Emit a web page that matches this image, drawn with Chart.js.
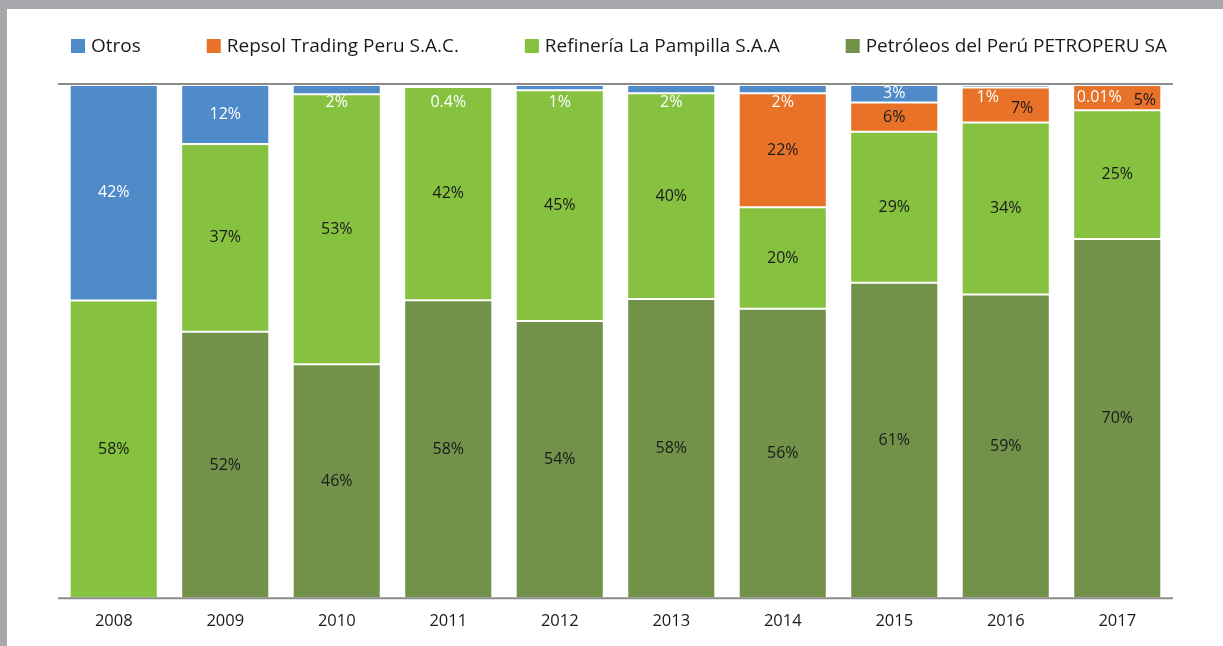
<!DOCTYPE html>
<html>
<head>
<meta charset="utf-8">
<script src="https://cdn.jsdelivr.net/npm/chart.js@4"></script>
<style>
  html, body {
    margin: 0;
    padding: 0;
    background: #a7a8ab;
    width: 1223px;
    height: 646px;
    overflow: hidden;
  }
  .frame {
    position: absolute;
    left: 7px;
    top: 9px;
    width: 1216px;
    height: 637px;
    background: #ffffff;
  }
</style>
</head>
<body>
<div class="frame"><canvas id="shareChart" width="1216" height="637"></canvas></div>
<script>
// Participación por año (%)
const years = ["2008", "2009", "2010", "2011", "2012", "2013", "2014", "2015", "2016", "2017"]
const petroperu = [0, 51.9, 45.6, 58.1, 54.0, 58.3, 56.4, 61.4, 59.3, 70.0]
const pampilla = [58, 36.6, 52.6, 41.6, 45, 40.1, 19.8, 29.4, 33.6, 25.1]
const repsol = [0, 0, 0, 0, 0, 0, 22.2, 5.7, 6.8, 4.9]
const otros = [42, 11.5, 1.8, 0.4, 1.0, 1.6, 1.6, 3.4, 0.5, 0.01]

const seriesNames = ["Petróleos del Perú PETROPERU SA", "Refinería La Pampilla S.A.A", "Repsol Trading Peru S.A.C.", "Otros"]
const seriesColors = ["#72924a", "#86c240", "#e87228", "#4f8bc9"]
const labelColors = ["#1a1a1a", "#1a1a1a", "#1a1a1a", "#ffffff"]

const raw = [petroperu, pampilla, repsol, otros]

// 100% apilado: cada año se normaliza a su total
const totals = years.map((_, i) => raw.reduce((s, arr) => s + arr[i], 0))
const shares = raw.map((arr) => arr.map((v, i) => (v / totals[i]) * 100))

const FONT = "'Open Sans', 'Noto Sans', sans-serif"

function formatPct(v) {
  if (v < 0.5) return v + "%"
  return Math.round(v) + "%"
}

Chart.defaults.font.family = FONT

// etiquetas de datos dentro de los segmentos
const segmentLabels = {
  id: "segmentLabels",
  afterDatasetsDraw(chart) {
    const ctx = chart.ctx
    ctx.save()
    ctx.font = "16px " + FONT
    ctx.textAlign = "center"
    ctx.textBaseline = "middle"
    years.forEach((_, i) => {
      const items = []
      raw.forEach((arr, d) => {
        if (arr[i] <= 0) return
        const bar = chart.getDatasetMeta(d).data[i]
        const top = Math.min(bar.y, bar.base)
        const h = Math.abs(bar.base - bar.y)
        let y = top + h / 2
        if (d === 3 && h < 12) y = top + 17
        items.push({ d, x: bar.x, y, text: formatPct(arr[i]) })
      })
      // si la etiqueta de Otros choca con la de Repsol, se separan
      const o = items.find((it) => it.d === 3)
      const r = items.find((it) => it.d === 2)
      if (o && r && Math.abs(o.y - r.y) < 14) {
        o.x -= 18
        o.y -= 5
        const oRight = o.x + ctx.measureText(o.text).width / 2
        r.x = oRight + 12 + ctx.measureText(r.text).width / 2
        r.y += 3
      }
      items.forEach((it) => {
        ctx.fillStyle = labelColors[it.d]
        ctx.fillText(it.text, it.x, it.y)
      })
    })
    ctx.restore()
  },
}

// líneas superior e inferior del área
const frameLines = {
  id: "frameLines",
  afterDatasetsDraw(chart) {
    const { ctx, chartArea } = chart
    ctx.save()
    ctx.strokeStyle = "#8c8c8c"
    ctx.lineWidth = 2
    ctx.beginPath()
    ctx.moveTo(chartArea.left, chartArea.top - 1)
    ctx.lineTo(chartArea.right, chartArea.top - 1)
    ctx.moveTo(chartArea.left, chartArea.bottom)
    ctx.lineTo(chartArea.right, chartArea.bottom)
    ctx.stroke()
    ctx.restore()
  },
}

// leyenda en una fila, de Otros a PETROPERU
const topLegend = {
  id: "topLegend",
  afterDraw(chart) {
    const { ctx, chartArea } = chart
    const box = 14
    const gapText = 6
    const y = 37
    ctx.save()
    ctx.font = "19px " + FONT
    ctx.textBaseline = "middle"
    const order = [3, 2, 1, 0]
    const widths = order.map((d) => box + gapText + ctx.measureText(seriesNames[d]).width)
    const start = chartArea.left + 13
    const end = chartArea.right - 6
    const gap = (end - start - widths.reduce((a, b) => a + b, 0)) / (order.length - 1)
    let x = start
    order.forEach((d, k) => {
      ctx.fillStyle = seriesColors[d]
      ctx.fillRect(x, y - box / 2, box, box)
      ctx.fillStyle = "#1a1a1a"
      ctx.fillText(seriesNames[d], x + box + gapText, y + 1)
      x += widths[k] + gap
    })
    ctx.restore()
  },
}

new Chart(document.getElementById("shareChart"), {
  type: "bar",
  data: {
    labels: years,
    datasets: shares.map((data, d) => ({
      label: seriesNames[d],
      data,
      backgroundColor: seriesColors[d],
      borderColor: "rgba(255,255,255,0.3)",
      borderWidth: 1,
      borderSkipped: false,
      categoryPercentage: 1,
      barPercentage: 0.79,
    })),
  },
  options: {
    responsive: false,
    animation: false,
    layout: {
      padding: { left: 51, right: 50, top: 76, bottom: 10 },
    },
    scales: {
      x: {
        stacked: true,
        grid: { display: false },
        border: { display: false },
        ticks: { color: "#1a1a1a", font: { size: 16.5 }, padding: 5 },
      },
      y: {
        stacked: true,
        display: false,
        min: 0,
        max: 100,
      },
    },
    plugins: {
      legend: { display: false },
      tooltip: { enabled: false },
    },
  },
  plugins: [segmentLabels, frameLines, topLegend],
})
</script>
</body>
</html>
